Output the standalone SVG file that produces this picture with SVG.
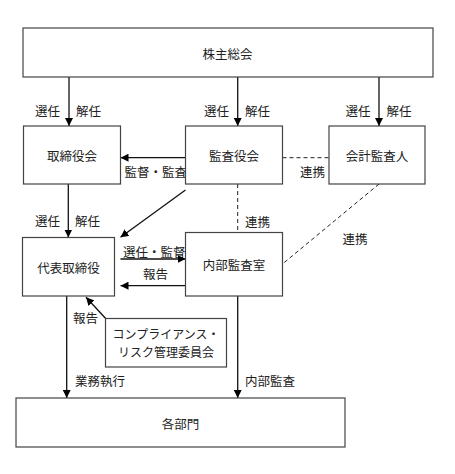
<svg xmlns="http://www.w3.org/2000/svg" width="455" height="474" viewBox="0 0 455 474">
<style>
text{font-family:"Noto Sans CJK JP","Liberation Serif",sans-serif;font-size:12.5px;fill:#222;dominant-baseline:central}
.c{text-anchor:middle}
.s{font-size:12px}
.box{fill:#fff;stroke:#444;stroke-width:1.2}
.ln{stroke:#111;stroke-width:1.3;fill:none}
.ar{marker-end:url(#ah)}
.dash{stroke:#222;stroke-width:1;stroke-dasharray:4,3;fill:none}
</style>
<defs>
<marker id="ah" markerWidth="8" markerHeight="8" refX="8" refY="4" orient="auto" markerUnits="userSpaceOnUse">
<path d="M0,0 L8,4 L0,8 Z" fill="#000"/>
</marker>
</defs>
<rect width="455" height="474" fill="#fff"/>
<g id="labels">
<text x="35" y="110">選任</text><text x="76" y="110">解任</text>
<text x="204" y="110">選任</text><text x="245" y="110">解任</text>
<text x="345.5" y="110">選任</text><text x="386.5" y="110">解任</text>
<text x="35" y="220">選任</text><text x="75" y="220">解任</text>
<text x="124.5" y="171.7">監督・監査</text>
<text x="300" y="171.7">連携</text>
<text x="245" y="221.7">連携</text>
<text x="342.5" y="238">連携</text>
<text x="123" y="251.5">選任・監督</text>
<text x="143" y="273">報告</text>
<text x="73" y="317.5">報告</text>
<text x="75" y="380">業務執行</text>
<text x="245" y="380">内部監査</text>
</g>
<g id="connectors">
<line class="ln ar" x1="69" y1="77" x2="69" y2="126"/>
<line class="ln ar" x1="237.7" y1="77" x2="237.7" y2="126"/>
<line class="ln ar" x1="379" y1="77" x2="379" y2="126"/>
<line class="ln ar" x1="185.5" y1="157.7" x2="120.5" y2="157.7"/>
<line class="ln ar" x1="185.5" y1="190" x2="120.5" y2="237.3"/>
<line class="dash" x1="282.5" y1="157.7" x2="329" y2="157.7"/>
<line class="dash" x1="237.7" y1="184" x2="237.7" y2="232.5"/>
<line class="dash" x1="379" y1="184" x2="282.5" y2="264"/>
<line class="ln ar" x1="68.3" y1="184" x2="68.3" y2="237.5"/>
<line class="ln ar" x1="120.5" y1="259" x2="185.5" y2="259"/>
<line class="ln ar" x1="185.5" y1="285.7" x2="120.5" y2="285.7"/>
<line class="ln ar" x1="66.7" y1="296" x2="66.7" y2="398"/>
<line class="ln ar" x1="237.7" y1="296" x2="237.7" y2="398"/>
<line class="ln ar" x1="105.7" y1="318.5" x2="86" y2="297.3"/>
</g>
<g id="n_shareholders"><rect class="box" x="23" y="28" width="410" height="49"/><text class="c" x="227.5" y="53">株主総会</text></g>
<g id="n_board"><rect class="box" x="23.5" y="126" width="97" height="58"/><text class="c" x="72" y="155">取締役会</text></g>
<g id="n_auditboard"><rect class="box" x="185.5" y="126" width="97" height="58"/><text class="c" x="234" y="155">監査役会</text></g>
<g id="n_accountant"><rect class="box" x="329" y="126" width="96" height="58"/><text class="c" x="377" y="155">会計監査人</text></g>
<g id="n_ceo"><rect class="box" x="22.5" y="237.5" width="92" height="58.5"/><text class="c" x="68.5" y="267">代表取締役</text></g>
<g id="n_internal"><rect class="box" x="185.5" y="232.5" width="97" height="63.5"/><text class="c" x="234" y="264.5">内部監査室</text></g>
<g id="n_compliance"><rect class="box" x="105.5" y="318.5" width="121" height="48.5"/><text class="c s" x="166" y="333.5">コンプライアンス・</text><text class="c s" x="166" y="351.5">リスク管理委員会</text></g>
<g id="n_depts"><rect class="box" x="16" y="398" width="329" height="49"/><text class="c" x="180.5" y="423">各部門</text></g>
</svg>
